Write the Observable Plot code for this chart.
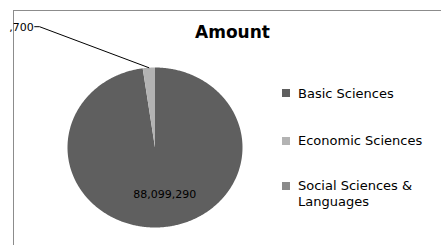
<!DOCTYPE html>
<html>
<head>
<meta charset="utf-8">
<script src="https://cdn.jsdelivr.net/npm/d3@7"></script>
<script src="https://cdn.jsdelivr.net/npm/@observablehq/plot@0.6"></script>
<style>
  html, body { margin: 0; padding: 0; background: #fff; }
  #wrap { position: relative; width: 441px; height: 245px; overflow: hidden; font-family: "DejaVu Sans", sans-serif; }
  #frame { position: absolute; left: 13px; top: 10px; width: 440px; height: 250px; border-left: 1px solid #8c8c8c; border-top: 1px solid #8c8c8c; box-sizing: border-box; }
  #chart { position: absolute; left: 0; top: 0; }
  #title { position: absolute; left: 232.5px; top: 23.6px; transform: translateX(-50%); font-weight: bold; font-size: 17px; line-height: 17px; color: #000; white-space: nowrap; }
  .lg-sw { position: absolute; left: 282px; width: 8px; height: 8px; }
  .lg-tx { position: absolute; left: 298px; font-size: 13px; line-height: 16px; color: #000; white-space: pre; }
</style>
</head>
<body>
<div id="wrap">
  <div id="frame"></div>
  <div id="chart"></div>
  <div id="title"></div>
</div>
<script>
// ---- data ----
const chartTitle = "Amount";
const categories = ["Basic Sciences", "Economic Sciences", "Social Sciences & Languages"];
const amounts = [88099290, 2027700, 0];
const valueLabels = ["88,099,290", ",700", ""];
const colors = ["#5f5f5f", "#b3b3b3", "#8a8a8a"];
const legendLabels = ["Basic Sciences", "Economic Sciences", "Social Sciences &\nLanguages"];

// ---- build ----
const rows = categories.map((c, i) => ({cat: c, amount: amounts[i], label: valueLabels[i]}));
const arcs = d3.pie().sort(null).value(d => d.amount).startAngle(0).endAngle(2 * Math.PI)(rows);

const slicePts = [];
arcs.forEach(a => {
  if (a.endAngle - a.startAngle <= 0) return;
  slicePts.push({cat: a.data.cat, x: 0, y: 0});
  const n = Math.max(2, Math.ceil((a.endAngle - a.startAngle) / 0.01));
  for (let k = 0; k <= n; k++) {
    const t = a.startAngle + (a.endAngle - a.startAngle) * k / n;
    slicePts.push({cat: a.data.cat, x: Math.sin(t), y: Math.cos(t)});
  }
});

const mid = a => (a.startAngle + a.endAngle) / 2;
// inside label for the large slice
const a0 = arcs[0];
const insideLabels = [{x: 0.59 * Math.sin(mid(a0)), y: 0.59 * Math.cos(mid(a0)), text: a0.data.label}];
// outside label with leader line for the small slice
const a1 = arcs[1];
const elbow = {x: -1.32, y: 1.51};
const tail = {x: -1.375, y: 1.51};
const leader = [
  {x: Math.sin(mid(a1)), y: Math.cos(mid(a1))},
  elbow,
  tail
];
const outsideLabels = [{x: tail.x, y: tail.y, text: a1.data.label}];

const plot = Plot.plot({
  width: 441,
  height: 245,
  margin: 0,
  x: {domain: [-1, 1], range: [67, 242], axis: null},
  y: {domain: [-1, 1], range: [227, 67], axis: null},
  color: {domain: categories, range: colors},
  style: {background: "transparent", overflow: "visible", fontFamily: "DejaVu Sans, sans-serif"},
  marks: [
    Plot.line(slicePts, {x: "x", y: "y", z: "cat", fill: "cat", stroke: "none"}),
    Plot.line(leader, {x: "x", y: "y", stroke: "#000", strokeWidth: 1}),
    Plot.text(insideLabels, {x: "x", y: "y", text: "text", dx: 6, fontSize: 11, fill: "#000"}),
    Plot.text(outsideLabels, {x: "x", y: "y", text: "text", textAnchor: "end", dx: -1, dy: 1, fontSize: 11, fill: "#000"})
  ]
});
document.getElementById("chart").appendChild(plot);
document.getElementById("title").textContent = chartTitle;

// legend
const wrap = document.getElementById("wrap");
const swTops = [89, 136.5, 181.5];
const txTops = [85.5, 132.5, 177.5];
categories.forEach((c, i) => {
  const sw = document.createElement("div");
  sw.className = "lg-sw";
  sw.style.top = swTops[i] + "px";
  sw.style.background = colors[i];
  wrap.appendChild(sw);
  const tx = document.createElement("div");
  tx.className = "lg-tx";
  tx.style.top = txTops[i] + "px";
  tx.textContent = legendLabels[i];
  wrap.appendChild(tx);
});
</script>
</body>
</html>
